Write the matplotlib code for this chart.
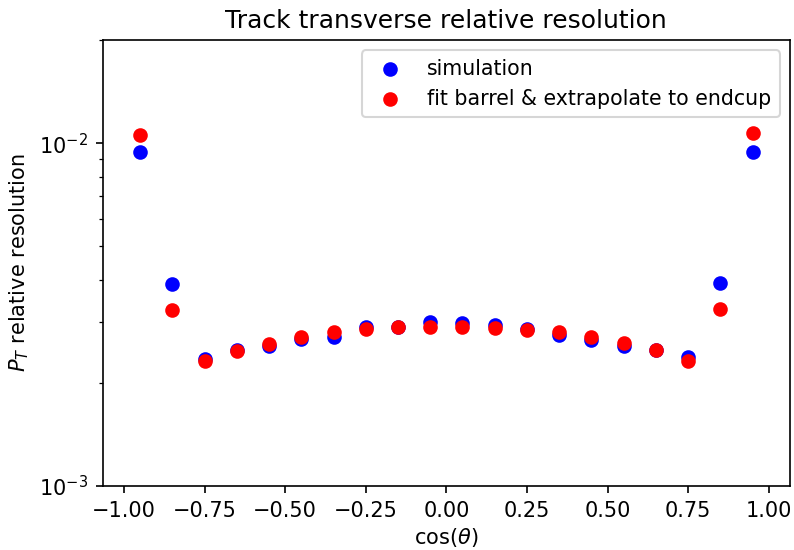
import numpy as np
import matplotlib
matplotlib.use("Agg")
import matplotlib.pyplot as plt

# bin centres in cos(theta)
cos_theta = [-0.95, -0.85, -0.75, -0.65, -0.55, -0.45, -0.35, -0.25, -0.15, -0.05,
             0.05, 0.15, 0.25, 0.35, 0.45, 0.55, 0.65, 0.75, 0.85, 0.95]

# pT relative resolution from simulation
res_sim = [0.00941, 0.00388, 0.00235, 0.00249, 0.00257, 0.00269, 0.00272, 0.00292,
           0.00291, 0.00300, 0.00298, 0.00295, 0.00288, 0.00275, 0.00267, 0.00257,
           0.00249, 0.00238, 0.00391, 0.00941]

# barrel fit extrapolated to the endcaps
res_fit = [0.01055, 0.00327, 0.00231, 0.00248, 0.00260, 0.00272, 0.00281, 0.00288,
           0.00291, 0.00292, 0.00291, 0.00290, 0.00286, 0.00281, 0.00272, 0.00261,
           0.00249, 0.00232, 0.00329, 0.01069]

fig = plt.figure(figsize=(794 / 150, 550 / 150), dpi=150)
ax = fig.add_axes([0.1293, 0.1164, 0.8657, 0.8106])

ax.scatter(cos_theta, res_sim, color='blue', label='simulation')
ax.scatter(cos_theta, res_fit, color='red', label='fit barrel & extrapolate to endcup')

ax.set_yscale('log')
ax.set_ylim(1e-3, 2e-2)
ax.set_xlim(-1.066, 1.066)
ax.set_xticks(np.arange(-1.0, 1.01, 0.25))
ax.set_xlabel(r'cos($\theta$)', labelpad=2.5)
ax.set_ylabel(r'$P_T$ relative resolution')
ax.set_title('Track transverse relative resolution')
ax.legend(loc='upper right', fontsize=9.85)

fig.savefig('out.png', dpi=150)
